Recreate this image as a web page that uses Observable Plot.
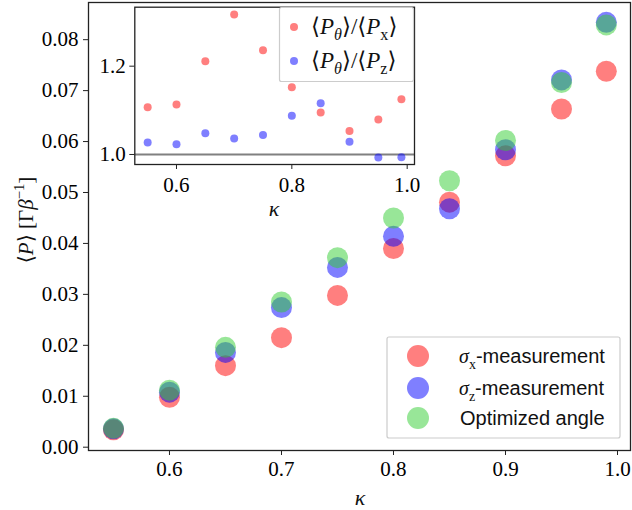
<!DOCTYPE html>
<html><head><meta charset="utf-8">
<script src="https://cdn.jsdelivr.net/npm/d3@7"></script>
<script src="https://cdn.jsdelivr.net/npm/@observablehq/plot@0.6"></script>
<style>
body{margin:0;background:#fff;}
#wrap{position:relative;width:632px;height:510px;overflow:hidden;}
#wrap svg{position:absolute;}
</style></head><body><div id="wrap"></div>
<script>
// ---- data ----
const kappa = [0.55, 0.6, 0.65, 0.7, 0.75, 0.8, 0.85, 0.9, 0.95, 0.99];
const sigmaX = [0.0034, 0.0098, 0.0160, 0.0215, 0.0298, 0.0390, 0.0481, 0.0572, 0.0664, 0.0738];
const sigmaZ = [0.0036, 0.0108, 0.0186, 0.0274, 0.0353, 0.0414, 0.0468, 0.0584, 0.0721, 0.0834];
const optimized = [0.0037, 0.0112, 0.0196, 0.0285, 0.0372, 0.0450, 0.0523, 0.0602, 0.0716, 0.0829];
const ratioX = [1.107, 1.113, 1.211, 1.317, 1.236, 1.152, 1.095, 1.053, 1.079, 1.125];
const ratioZ = [1.027, 1.023, 1.048, 1.036, 1.044, 1.088, 1.116, 1.029, 0.993, 0.994];
const mainXTicks = [0.6, 0.7, 0.8, 0.9, 1.0];
const mainYTicks = [0.00, 0.01, 0.02, 0.03, 0.04, 0.05, 0.06, 0.07, 0.08];
const insetXTicks = [0.6, 0.8, 1.0];
const insetYTicks = [1.0, 1.2];

const serif = "'Liberation Serif','DejaVu Serif',serif";
const sans = "'Liberation Sans','DejaVu Sans',sans-serif";
const RED = "#ff0000", BLUE = "#0000ff", GREEN = "#32cd32";

const rows = arr => arr.map((v, i) => ({k: kappa[i], v}));
const wrap = document.getElementById("wrap");

// ---- main plot ----
const main = Plot.plot({
  width: 632, height: 510,
  marginLeft: 88, marginRight: 2, marginTop: 2, marginBottom: 60,
  style: {background: "transparent", fontFamily: serif},
  x: {domain: [0.5277, 1.0116]},
  y: {domain: [-0.00065, 0.0873]},
  marks: [
    Plot.dot(rows(sigmaX), {x: "k", y: "v", r: 10.5, fill: RED, fillOpacity: 0.5}),
    Plot.dot(rows(sigmaZ), {x: "k", y: "v", r: 10.5, fill: BLUE, fillOpacity: 0.5}),
    Plot.dot(rows(optimized), {x: "k", y: "v", r: 10.5, fill: GREEN, fillOpacity: 0.5}),
    Plot.axisX({ticks: mainXTicks, tickFormat: d3.format(".1f"), tickSize: 5, tickPadding: 6, label: null, fontSize: 21, fontFamily: serif, stroke: "#222"}),
    Plot.axisY({ticks: mainYTicks, tickFormat: d3.format(".2f"), tickSize: 5, tickPadding: 5, label: null, fontSize: 21, fontFamily: serif, stroke: "#222"}),
    Plot.frame({stroke: "#222", strokeWidth: 1.3})
  ]
});
main.style.left = "0px"; main.style.top = "0px";
wrap.appendChild(main);

// ---- inset ----
const inset = Plot.plot({
  width: 330, height: 225,
  marginLeft: 44.3, marginRight: 6, marginTop: 6.7, marginBottom: 61,
  style: {background: "transparent", fontFamily: serif},
  x: {domain: [0.5277, 1.0127]},
  y: {domain: [0.9773, 1.3336]},
  marks: [
    Plot.frame({fill: "white", stroke: "none"}),
    Plot.ruleY([1.0], {stroke: "#808080", strokeWidth: 2.2}),
    Plot.dot(rows(ratioX), {x: "k", y: "v", r: 4, fill: RED, fillOpacity: 0.5}),
    Plot.dot(rows(ratioZ), {x: "k", y: "v", r: 4, fill: BLUE, fillOpacity: 0.5}),
    Plot.axisX({ticks: insetXTicks, tickFormat: d3.format(".1f"), tickSize: 5, tickPadding: 8, label: null, fontSize: 21, fontFamily: serif, stroke: "#222"}),
    Plot.axisY({ticks: insetYTicks, tickFormat: d3.format(".1f"), tickSize: 5, tickPadding: 4, label: null, fontSize: 21, fontFamily: serif, stroke: "#222"}),
    Plot.frame({stroke: "#222", strokeWidth: 1.3})
  ]
});
inset.style.left = "90px"; inset.style.top = "0px";
wrap.appendChild(inset);

// ---- overlay: labels and legends ----
const ov = d3.select(wrap).append("svg").attr("width", 632).attr("height", 510)
  .style("left", "0px").style("top", "0px");

function rich(g, x, y, parts, size, family, anchor) {
  const t = g.append("text").attr("x", x).attr("y", y).attr("font-size", size)
    .attr("font-family", family || serif).attr("text-anchor", anchor || "start").attr("fill", "#111");
  let shift = 0;
  parts.forEach(p => {
    const sp = t.append("tspan").text(p.t);
    if (p.i) sp.attr("font-style", "italic");
    if (p.f) sp.attr("font-family", p.f);
    const target = p.sub ? size * 0.28 : p.sup ? -size * 0.42 : 0;
    if (target !== shift) { sp.attr("dy", target - shift); shift = target; }
    if (p.sub || p.sup) sp.attr("font-size", size * 0.7);
  });
  return t;
}

// axis labels
rich(ov, 360, 505, [{t: "κ", i: true}], 22, serif, "middle");
rich(ov, 274, 216, [{t: "κ", i: true}], 22, serif, "middle");
const yl = ov.append("g").attr("transform", "translate(33,220) rotate(-90)");
rich(yl, 0, 0, [{t: "⟨"}, {t: "P", i: true}, {t: "⟩ [Γ"}, {t: "β", i: true}, {t: "−1", sup: true}, {t: "]"}], 21, serif, "middle");

// inset legend
const il = ov.append("g");
il.append("rect").attr("x", 279.5).attr("y", 7.5).attr("width", 134).attr("height", 74).attr("rx", 2)
  .attr("fill", "white").attr("fill-opacity", 0.8).attr("stroke", "#ccc").attr("stroke-width", 1.2);
il.append("circle").attr("cx", 294).attr("cy", 27).attr("r", 4).attr("fill", RED).attr("fill-opacity", 0.5);
il.append("circle").attr("cx", 294).attr("cy", 61).attr("r", 4).attr("fill", BLUE).attr("fill-opacity", 0.5);
rich(il, 311, 34, [{t: "⟨"}, {t: "P", i: true}, {t: "θ", i: true, sub: true}, {t: "⟩/⟨"}, {t: "P", i: true}, {t: "x", sub: true}, {t: "⟩"}], 23, serif);
rich(il, 311, 68, [{t: "⟨"}, {t: "P", i: true}, {t: "θ", i: true, sub: true}, {t: "⟩/⟨"}, {t: "P", i: true}, {t: "z", sub: true}, {t: "⟩"}], 23, serif);

// main legend
const ml = ov.append("g");
ml.append("rect").attr("x", 387).attr("y", 337).attr("width", 233).attr("height", 101).attr("rx", 2)
  .attr("fill", "white").attr("fill-opacity", 0.8).attr("stroke", "#ccc").attr("stroke-width", 1.2);
[[RED, 356], [BLUE, 388], [GREEN, 418]].forEach(([c, cy]) =>
  ml.append("circle").attr("cx", 418).attr("cy", cy).attr("r", 11).attr("fill", c).attr("fill-opacity", 0.5));
rich(ml, 459, 363, [{t: "σ", i: true, f: serif}, {t: "x", sub: true, f: serif}, {t: "-measurement", f: sans}], 20, sans);
rich(ml, 459, 395, [{t: "σ", i: true, f: serif}, {t: "z", sub: true, f: serif}, {t: "-measurement", f: sans}], 20, sans);
rich(ml, 460, 425, [{t: "Optimized angle"}], 20, sans);
</script></body></html>
